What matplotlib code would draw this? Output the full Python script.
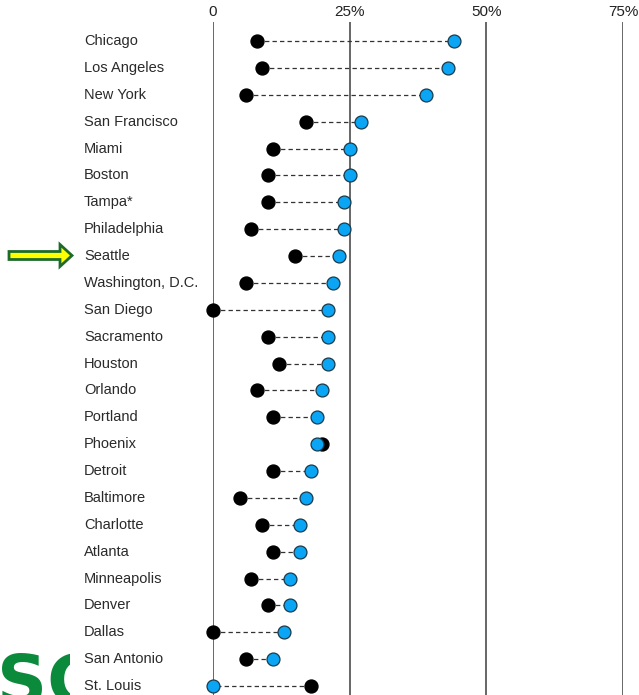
import matplotlib
matplotlib.use("Agg")
import matplotlib.pyplot as plt
import matplotlib.transforms as mtransforms
from matplotlib.patches import FancyArrow

cities = ["Chicago", "Los Angeles", "New York", "San Francisco", "Miami", "Boston",
          "Tampa*", "Philadelphia", "Seattle", "Washington, D.C.", "San Diego",
          "Sacramento", "Houston", "Orlando", "Portland", "Phoenix", "Detroit",
          "Baltimore", "Charlotte", "Atlanta", "Minneapolis", "Denver", "Dallas",
          "San Antonio", "St. Louis"]
black_vals = [8, 9, 6, 17, 11, 10, 10, 7, 15, 6, 0, 10, 12, 8, 11, 20, 11, 5, 9, 11, 7, 10, 0, 6, 18]
blue_vals = [44, 43, 39, 27, 25, 25, 24, 24, 23, 22, 21, 21, 21, 20, 19, 19, 18, 17, 16, 16, 14, 14, 13, 11, 0]
tick_vals = [0, 25, 50, 75]
tick_labels = ["0", "25%", "50%", "75%"]

plt.rcParams['font.family'] = ['Liberation Sans', 'DejaVu Sans']

W, H = 639, 695
fig = plt.figure(figsize=(W / 100, H / 100), dpi=100)

ax_left = 213 / W
ax_right = 623 / W
ax_top = 1 - 22 / H
ax = fig.add_axes([ax_left, 0, ax_right - ax_left, ax_top])
n = len(cities)
spacing = (686 - 41) / (n - 1)
ymin = -(41 - 22) / spacing
ymax = (695 - 41) / spacing
ax.set_xlim(0, 75)
ax.set_ylim(ymax, ymin)
for s in ax.spines.values():
    s.set_visible(False)
ax.set_yticks([])
ax.set_xticks(tick_vals)
ax.set_xticklabels(tick_labels)
ax.xaxis.tick_top()
ax.tick_params(axis='x', length=0, pad=2, labelsize=11, labelcolor='#222222')

for t in tick_vals:
    ax.axvline(t, color='#5a5a5a', lw=1.3, zorder=1)

for i, (b, u) in enumerate(zip(black_vals, blue_vals)):
    ax.plot([b, u], [i, i], ls=(0, (3.5, 2.5)), color='#333333', lw=0.9, zorder=2, clip_on=False)
    ax.plot(b, i, 'o', ms=9.3, color='black', mec='black', zorder=3, clip_on=False)
    ax.plot(u, i, 'o', ms=9.3, color='#0aa6f5', mec='#1a3a4a', mew=0.9, zorder=4, clip_on=False)

trans = mtransforms.blended_transform_factory(fig.transFigure, ax.transData)
for i, c in enumerate(cities):
    ax.text(84 / W, i, c, transform=trans, ha='left', va='center', fontsize=10.5,
            color='#2a2a2a', clip_on=False)

# overlay for decorations in pixel coordinates
ov = fig.add_axes([0, 0, 1, 1], facecolor='none')
ov.set_xlim(0, W)
ov.set_ylim(H, 0)
ov.axis('off')
arrow = FancyArrow(9, 255.5, 63, 0, width=8, head_width=22, head_length=12,
                   length_includes_head=True, facecolor='#ffff00', edgecolor='#1d6b2a', lw=2)
ov.add_patch(arrow)

t = ov.text(-3, 704, "SC", fontsize=50, fontweight='black', color='#0b8a3c',
            ha='left', va='baseline', family=['DejaVu Sans'])
t.set_clip_box(mtransforms.TransformedBbox(mtransforms.Bbox.from_extents(0, 0, 70 / W, 1), fig.transFigure))
t.set_clip_on(True)

fig.savefig("out.png", dpi=100)
